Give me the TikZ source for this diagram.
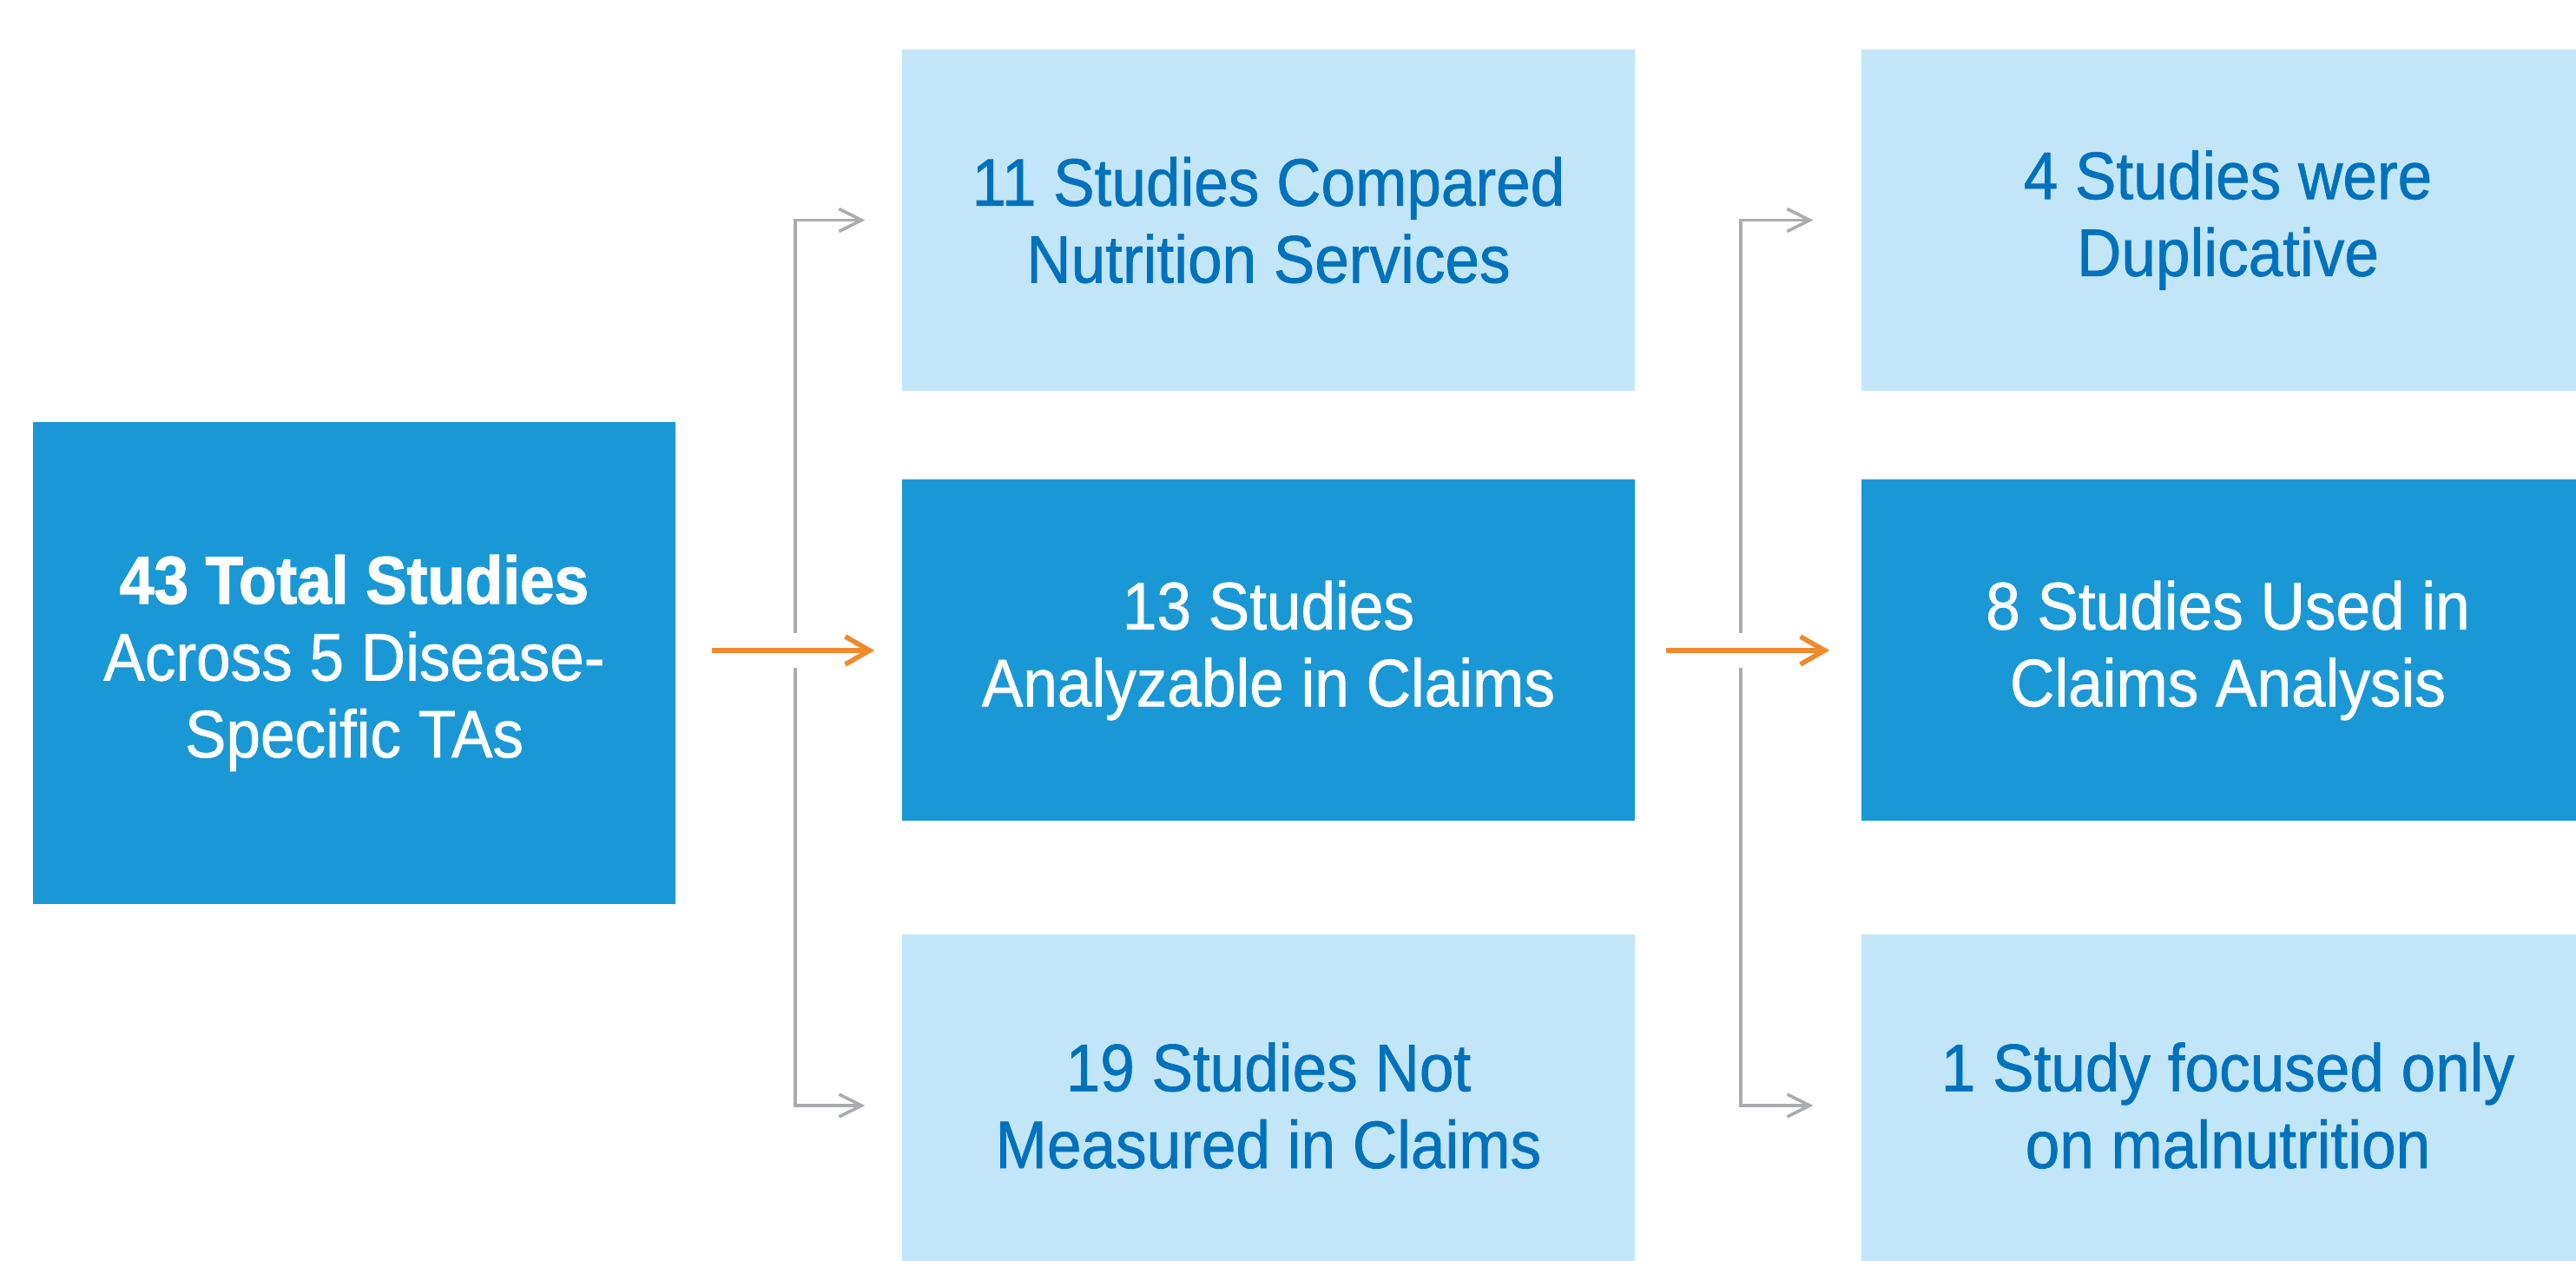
\documentclass[tikz,border=0pt]{standalone}
\usepackage{fontspec}
\setmainfont{Liberation Sans}[FakeStretch=0.92,
	UprightFeatures={FakeBold=0.9}, BoldFeatures={FakeBold=1.6}]
\usepackage{tikz}
\usetikzlibrary{arrows.meta}

\definecolor{boxblue}{HTML}{1A98D5}
\definecolor{paleblue}{HTML}{C2E6F7}
\definecolor{inkblue}{HTML}{0071BC}
\definecolor{floworange}{HTML}{F18A2C}
\definecolor{linegray}{HTML}{A9ABAE}

\tikzset{
	stage/.style={fill=boxblue, text=white, align=center, inner sep=0pt,
		minimum width=8.44cm, minimum height=3.93cm,
		font=\fontsize{22}{25.2}\selectfont},
	side/.style={stage, fill=paleblue, text=inkblue},
	flow/.style={draw=floworange, line width=1.6pt,
		-{Straight Barb[length=0.28cm, width=0.32cm, line width=1.6pt]}},
	branch/.style={draw=linegray, line width=1pt,
		-{Straight Barb[length=0.26cm, width=0.26cm, line width=1pt]}}
}

\begin{document}
\begin{tikzpicture}
				\clip (0,0) rectangle (29.67,14.52);
				
				% first column
				\node[stage, minimum width=7.40cm, minimum height=5.55cm] (total) at (4.08,6.885)
				{{\bfseries 43 Total Studies}\\Across 5 Disease-\\Specific TAs};
				
				% second column
				\node[side] (compared) at (14.61,11.985) {11 Studies Compared\\Nutrition Services};
				\node[stage] (analyzable) at (14.61,7.03) {13 Studies\\Analyzable in Claims};
				\node[side] (notmeasured) at (14.61,1.79) {19 Studies Not\\Measured in Claims};
				
				% third column
				\node[side] (duplicative) at (25.66,11.985) {4 Studies were\\Duplicative};
				\node[stage] (used) at (25.66,7.03) {8 Studies Used in\\Claims Analysis};
				\node[side] (malnutrition) at (25.66,1.79) {1 Study focused only\\on malnutrition};
				
				% split points, one per step
				\coordinate (split1) at (9.16,7.03);
				\coordinate (split2) at (20.05,7.03);
				
				% grey side branches, broken where the main flow crosses
				\foreach \s/\a/\b/\d in
				{split1/compared/notmeasured/0.42, split2/duplicative/malnutrition/0.55}{
					\draw[branch, shorten >=\d cm] ([yshift=0.2cm]\s) |- (\a.west);
					\draw[branch, shorten >=\d cm] ([yshift=-0.2cm]\s) |- (\b.west);
				}
				
				% main flow
				\draw[flow, shorten <=0.41cm, shorten >=0.31cm] (total.east |- analyzable.west) -- (analyzable.west);
				\draw[flow, shorten <=0.35cm, shorten >=0.36cm] (analyzable.east) -- (used.west);
\end{tikzpicture}
\end{document}
